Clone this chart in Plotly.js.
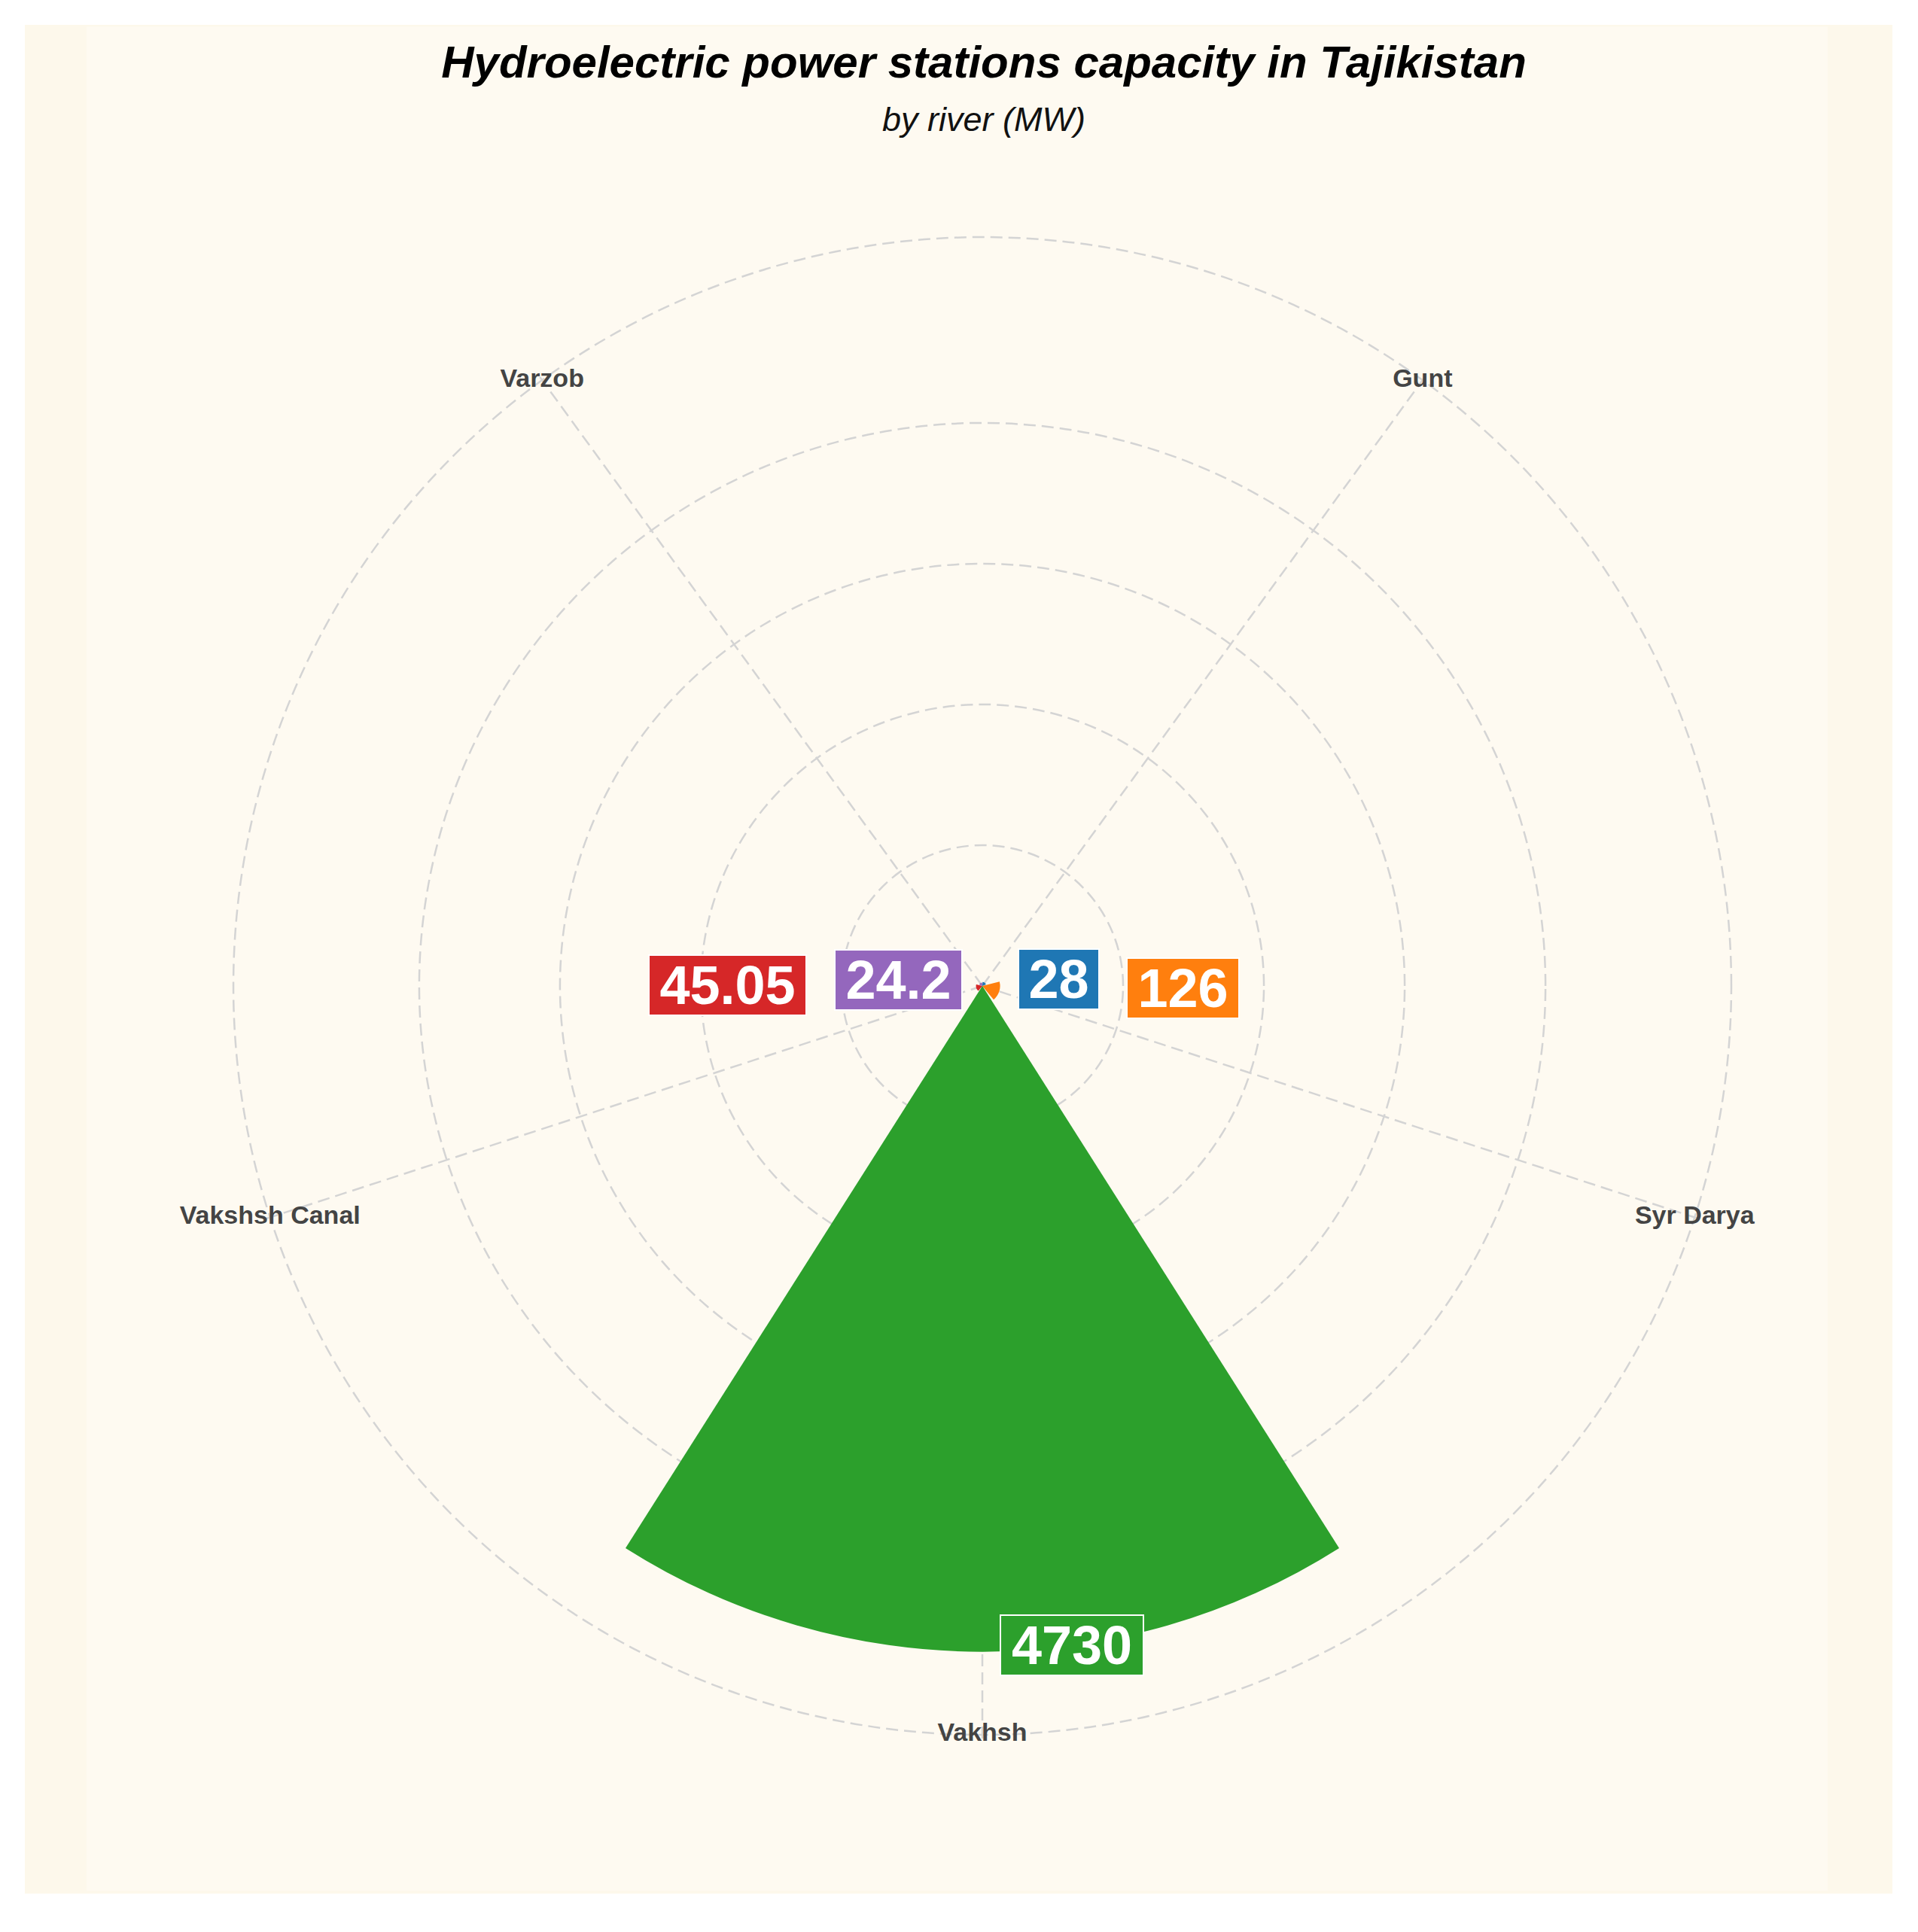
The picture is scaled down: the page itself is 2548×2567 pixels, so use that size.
<!DOCTYPE html>
<html>
<head>
<meta charset="utf-8">
<script src="https://cdn.plot.ly/plotly-3.0.1.min.js"></script>
<style>
  html, body { margin: 0; padding: 0; background: #ffffff; }
  #chart { position: absolute; left: 33px; top: 33px; width: 2481px; height: 2483px; }
</style>
</head>
<body>
<div id="chart"></div>
<script>
// ---- data ----
const categories = ['Gunt', 'Syr Darya', 'Vakhsh', 'Vakshsh Canal', 'Varzob'];
const capacityMW = [28, 126, 4730, 45.05, 24.2];
const valueLabels = ['28', '126', '4730', '45.05', '24.2'];
const barColors = ['#1f77b4', '#ff7f0e', '#2ca02c', '#d62728', '#9467bd'];
const radialTicks = [1000, 2000, 3000, 4000];
const outerCircle = 5320;

// ---- style / layout helpers ----
const W = 2481, H = 2483;
const step = 360 / categories.length;
const thetaPos = categories.map((c, i) => i * step);
const radialMax = 5350;
// label box centres (px in figure) and box widths
const labelPx = [[1374, 1268], [1538, 1280], [1391, 2153], [933, 1276], [1160, 1269]];
const labelBoxW = [109, 151, 192, 211, 171];
const FONT = 'Liberation Sans, Arial, sans-serif';

const bars = {
  type: 'barpolar',
  r: capacityMW,
  theta: thetaPos,
  width: thetaPos.map(() => step * 0.9),
  marker: { color: barColors, line: { width: 0 } },
  hoverinfo: 'skip'
};

const catLabels = {
  type: 'scatterpolar',
  mode: 'text',
  r: categories.map(() => outerCircle),
  theta: thetaPos,
  text: categories,
  textposition: 'middle center',
  textfont: { family: FONT, size: 34, color: '#444444', weight: 'bold' },
  cliponaxis: false,
  hoverinfo: 'skip'
};

const annotations = valueLabels.map((t, i) => ({
  text: t,
  xref: 'paper', yref: 'paper',
  x: labelPx[i][0] / W, y: 1 - labelPx[i][1] / H,
  xanchor: 'center', yanchor: 'middle',
  showarrow: false,
  font: { family: FONT, size: 72, color: '#ffffff', weight: 'bold' },
  bgcolor: barColors[i],
  bordercolor: '#ffffff',
  borderwidth: 2,
  borderpad: 0,
  width: labelBoxW[i] - 4,
  height: 78
}));

annotations.push({
  text: 'by river (MW)',
  xref: 'paper', yref: 'paper',
  x: 1274 / W, y: 1 - 126 / H,
  xanchor: 'center', yanchor: 'middle',
  showarrow: false,
  font: { family: FONT, size: 45, color: '#111111', style: 'italic' }
});

const layout = {
  width: W, height: H,
  margin: { l: 0, r: 0, t: 0, b: 0, pad: 0 },
  paper_bgcolor: '#fdf8eb',
  showlegend: false,
  title: {
    text: 'Hydroelectric power stations capacity in Tajikistan',
    font: { family: FONT, size: 60, color: '#000000', weight: 'bold', style: 'italic' },
    x: 1274 / W, xanchor: 'center',
    y: 1 - 49 / H, yanchor: 'middle', yref: 'container'
  },
  shapes: [{
    type: 'rect', xref: 'paper', yref: 'paper', layer: 'below',
    x0: 82 / W, x1: 2395 / W, y0: 0.0016, y1: 0.999,
    fillcolor: '#fefaf1', line: { width: 0 }
  }],
  polar: {
    domain: { x: [0.1094, 0.9160], y: [0.0827, 0.8887] },
    bgcolor: 'rgba(0,0,0,0)',
    radialaxis: {
      range: [0, radialMax],
      tickvals: radialTicks.concat([outerCircle]),
      showticklabels: false,
      ticks: '',
      showline: false,
      gridcolor: '#d4d4d4',
      gridwidth: 2.5,
      griddash: '16px,8px'
    },
    angularaxis: {
      type: 'linear',
      direction: 'clockwise',
      rotation: 90 - step / 2,
      tickvals: thetaPos,
      ticktext: categories,
      showticklabels: false,
      ticks: '',
      showline: false,
      gridcolor: '#d4d4d4',
      gridwidth: 2.5,
      griddash: '16px,8px'
    }
  },
  annotations: annotations
};

Plotly.newPlot('chart', [bars, catLabels], layout, { displayModeBar: false, staticPlot: true });
</script>
</body>
</html>
